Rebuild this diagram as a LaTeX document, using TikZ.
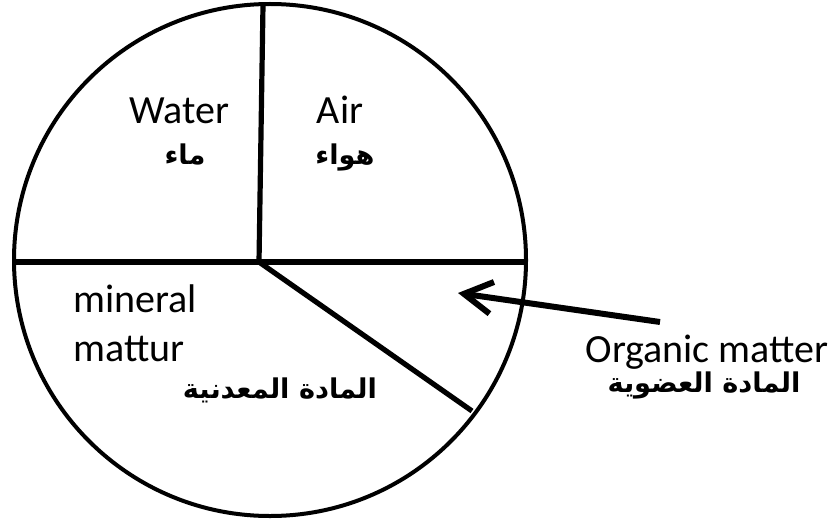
\documentclass[tikz,border=0pt]{standalone}
\usepackage{fontspec}
\setmainfont{Carlito}
\newfontfamily\arabicfont[Script=Arabic,BoldFont={DejaVu Sans Bold}]{DejaVu Sans}
\TeXXeTstate=1
\usetikzlibrary{arrows.meta}
\begin{document}
\begin{tikzpicture}[x=0.5pt,y=-0.5pt,
  lat/.style={font=\fontsize{20}{22}\selectfont, inner sep=0pt},
  ar/.style={font=\arabicfont\bfseries\fontsize{13.6}{15}\selectfont, inner sep=0pt},
  divider/.style={line width=2.6pt},
  pointer/.style={line width=3pt, -{Straight Barb[length=14pt,width=16pt]}}]
\useasboundingbox[fill=white] (0,0) rectangle (834,519);
\node[circle, draw, line width=2pt, minimum size=256pt, inner sep=0pt] (c) at (270,260) {};
\coordinate (ctr) at (259,262);
\coordinate (top) at (263,5);
\coordinate (left) at (12,262);
\coordinate (right) at (528,262);
\coordinate (rim) at (472,411);
\draw[divider] (ctr) -- (top);
\draw[line width=3pt] (left) -- (right);
\draw[divider] (ctr) -- (rim);
\node[lat, anchor=base] (water) at (179,123) {Water};
\node[ar, anchor=base] (watera) at (185,164) {\beginR ماء\endR};
\node[lat, anchor=base] (air) at (340,123) {Air};
\node[ar, anchor=base] (aira) at (345,164) {\beginR هواء\endR};
\node[lat, anchor=base west] (min1) at (73,312) {mineral};
\node[lat, anchor=base west] (min2) at (73,361) {mattur};
\node[ar, anchor=base] (mina) at (280,398) {\beginR المادة المعدنية\endR};
\node[lat, anchor=base] (org) at (707,362) {Organic matter};
\node[ar, anchor=base] (orga) at (704,392) {\beginR المادة العضوية\endR};
\coordinate (tail) at (660,322);
\coordinate (tip) at (458,293);
\draw[pointer] (tail) -- (tip);
\end{tikzpicture}
\end{document}
